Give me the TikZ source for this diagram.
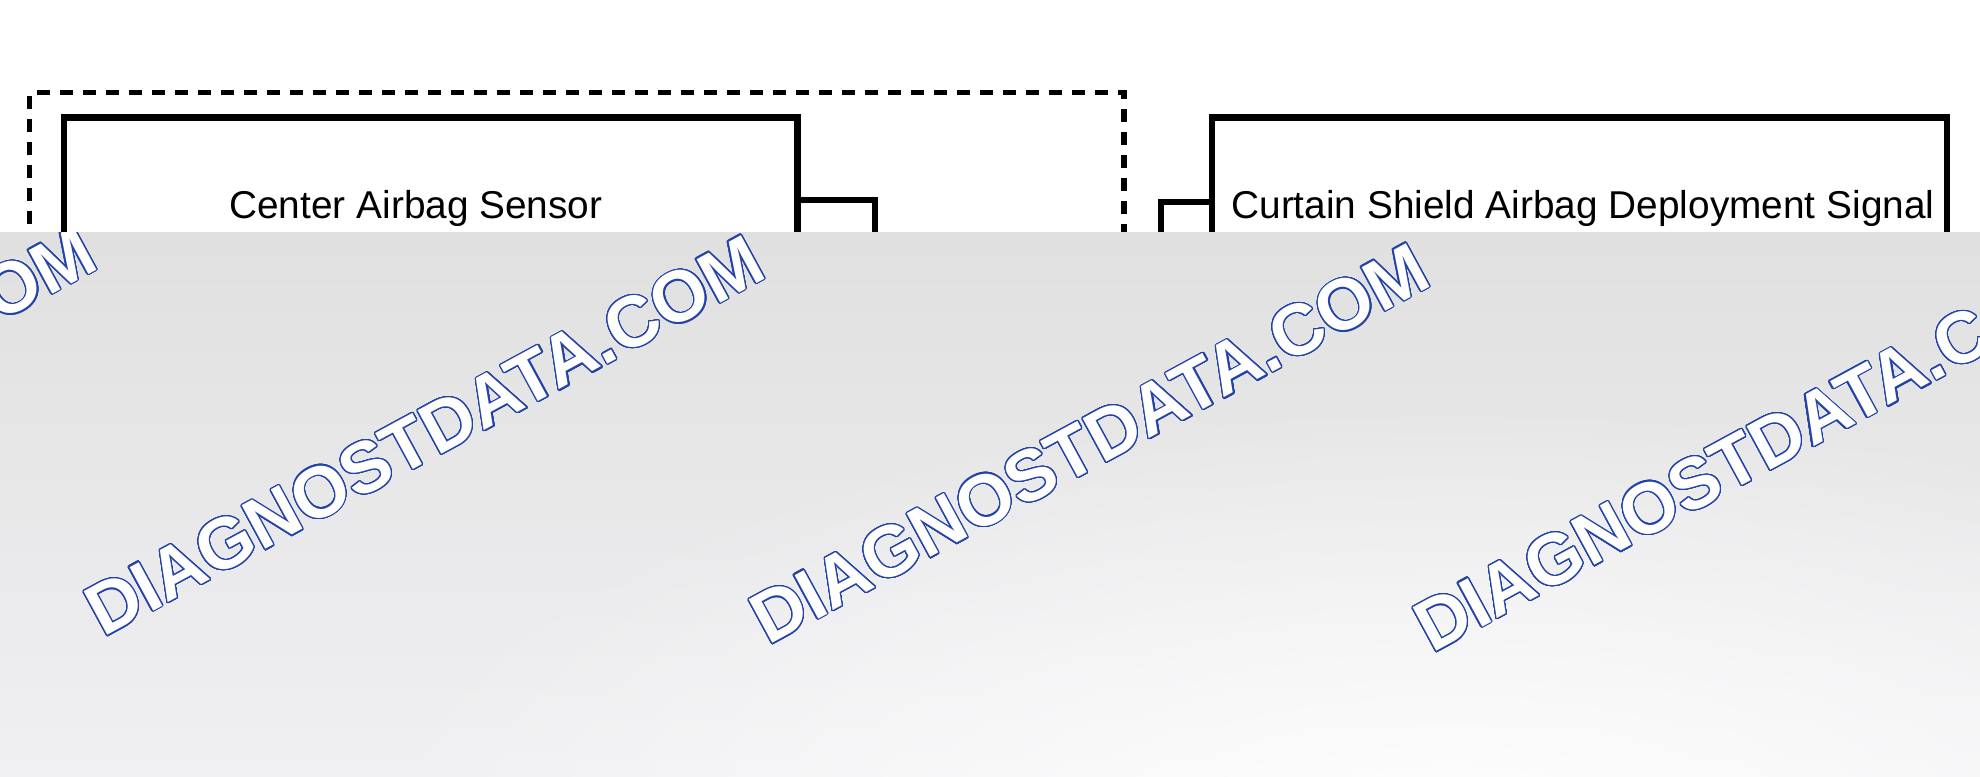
\documentclass[tikz,border=0pt]{standalone}
\usepackage{fontspec}
\setmainfont{Liberation Sans}
\usepackage{xcolor}
\usepackage{contour}
\usetikzlibrary{fadings}
\contourlength{0.6pt}
\contournumber{32}
\definecolor{wmblue}{HTML}{2443A8}
\definecolor{shadetop}{HTML}{E0E0E0}
\definecolor{shadebot}{HTML}{F0F0F3}
\tikzfading[name=whitespot, inner color=transparent!0, outer color=transparent!100]

\begin{document}
\begin{tikzpicture}[x=0.5pt, y=-0.5pt,
            unitbox/.style = {draw, line width=3.3pt, inner sep=0pt, outer sep=0pt, anchor=north west},
            groupbox/.style = {draw, line width=2.8pt, dash pattern=on 6.5pt off 5pt,
                                inner sep=0pt, outer sep=0pt, anchor=north west},
            boxtext/.style = {anchor=base west, inner sep=0pt, font=\fontsize{19.4}{23}\selectfont},
            wire/.style = {line width=2.6pt},
            watermark/.style = {rotate=28.5, anchor=base west, inner sep=0pt,
                                font=\fontsize{36}{42}\selectfont\bfseries}]
    \useasboundingbox[fill=white] (0,0) rectangle (1980,776);
    \node[groupbox, minimum width=547.25pt, minimum height=330pt] (group) at (29.5,92.5) {};
    \node[unitbox, minimum width=366.75pt, minimum height=280pt] (sensor) at (64,117.5) {};
    \node[unitbox, minimum width=367.5pt, minimum height=280pt] (signal) at (1212,117.5) {};
    \node[boxtext] (sensortext) at (229,218) {Center Airbag Sensor};
    \node[boxtext] (signaltext) at (1231,218) {Curtain Shield Airbag Deployment Signal};
    \coordinate (sensorend) at (875,700);
    \coordinate (signalend) at (1161,700);
    \draw[wire] ([yshift=-41.25pt]sensor.north east) -| (sensorend);
    \draw[wire] ([yshift=-42.25pt]signal.north west) -| (signalend);
    % grey overlay with watermark
    \shade[top color=shadetop, bottom color=shadebot] (0,232) rectangle (1980,776);
    \begin{scope}
        \clip (0,232) rectangle (1980,776);
        \fill[white, path fading=whitespot] (1450,860) ellipse (560pt and 230pt);
        \foreach \wx/\wy [count=\i] in {-565/629, 103/638, 768/646, 1432/654}
            \node[watermark] (wm\i) at (\wx,\wy) {\contour{wmblue}{\textcolor{white}{DIAGNOSTDATA.COM}}};
    \end{scope}
\end{tikzpicture}
\end{document}
